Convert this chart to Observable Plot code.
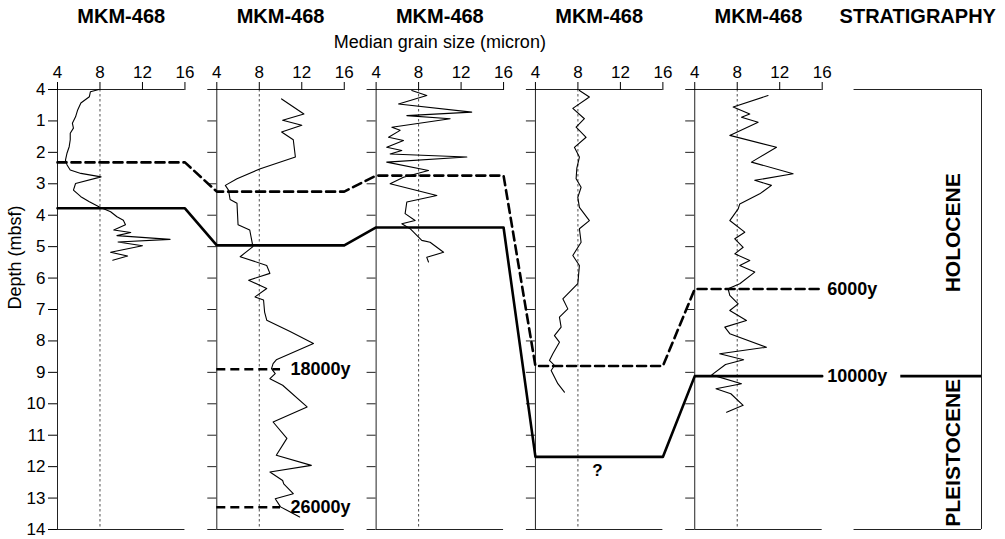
<!DOCTYPE html>
<html><head><meta charset="utf-8">
<script src="https://cdn.jsdelivr.net/npm/d3@7"></script>
<script src="https://cdn.jsdelivr.net/npm/@observablehq/plot@0.6"></script>
<style>body{margin:0;background:#fff} #chart svg{display:block}</style>
</head><body><div id="chart"></div>
<script>
// ---------- data ----------
const coreTitles = ["MKM-468", "MKM-468", "MKM-468", "MKM-468", "MKM-468"];
const stratTitle = "STRATIGRAPHY";
const xLabel = "Median grain size (micron)";
const yLabel = "Depth (mbsf)";
const sizeTicks = [4, 8, 12, 16];
const sizeTickLabels = ["4", "8", "12", "16"];
const depthTicks = [0, 1, 2, 3, 4, 5, 6, 7, 8, 9, 10, 11, 12, 13, 14];
const depthTickLabels = ["4", "1", "2", "3", "4", "5", "6", "7", "8", "9", "10", "11", "12", "13", "14"];
const refSize = 8;

const core1Depth = [0, 0.07, 0.23, 0.43, 0.65, 0.87, 1.07, 1.23, 1.39, 1.6, 1.82, 2.02, 2.25, 2.4, 2.56, 2.67, 2.78, 2.99, 3.2, 3.41, 3.57, 3.73, 3.89, 4.05, 4.16, 4.3, 4.47, 4.55, 4.65, 4.77, 4.85, 4.97, 5.18, 5.3, 5.43];
const core1Size  = [7.9, 7.1, 7.0, 6.2, 5.9, 5.7, 5.4, 5.5, 5.2, 5.2, 5.1, 4.9, 4.75, 4.9, 5.2, 6.2, 8.1, 5.7, 5.5, 6.2, 7.0, 7.9, 9.0, 9.6, 10.2, 10.4, 9.3, 10.9, 9.6, 14.6, 9.7, 12.0, 9.0, 10.6, 9.2];

const core2Depth = [0.3, 0.78, 0.98, 1.14, 1.35, 1.6, 2.15, 2.52, 2.84, 3.05, 3.2, 3.5, 3.62, 4.3, 4.47, 5.0, 5.32, 5.6, 5.85, 6.07, 6.33, 6.6, 6.7, 7.08, 7.34, 7.7, 8.08, 8.6, 8.72, 8.88, 9.04, 9.2, 9.41, 10.1, 10.58, 11.1, 11.64, 11.96, 12.17, 12.44, 12.55, 12.86, 13.02, 13.28, 13.6];
const core2Size  = [10.1, 12.2, 10.2, 12.0, 10.1, 11.2, 11.4, 8.1, 5.9, 4.8, 5.1, 5.25, 5.9, 6.0, 7.1, 7.4, 6.2, 8.7, 9.0, 7.0, 8.7, 7.6, 8.4, 8.5, 8.7, 10.9, 13.1, 9.6, 9.3, 9.15, 9.5, 9.0, 10.2, 12.5, 9.3, 10.6, 9.6, 12.9, 9.0, 10.2, 10.3, 11.2, 9.5, 10.0, 11.8];

const core3Depth = [0.03, 0.19, 0.46, 0.72, 0.83, 0.93, 1.2, 1.3, 1.52, 1.62, 1.84, 1.94, 2.05, 2.15, 2.31, 2.58, 2.79, 3.0, 3.37, 3.58, 3.95, 4.17, 4.27, 4.43, 4.8, 4.86, 5.18, 5.34, 5.49];
const core3Size  = [7.36, 8.77, 6.11, 13.0, 6.89, 10.97, 5.48, 6.26, 5.17, 6.58, 5.0, 6.42, 5.32, 12.54, 5.0, 8.93, 6.58, 5.32, 9.72, 6.89, 6.73, 7.67, 6.42, 7.2, 8.3, 9.08, 10.35, 8.77, 8.93];

const core4Depth = [0.03, 0.24, 0.6, 0.93, 1.2, 1.52, 1.84, 2.15, 2.5, 2.84, 3.11, 3.43, 3.75, 4.17, 4.43, 4.86, 5.28, 5.6, 6.18, 6.66, 6.98, 7.24, 7.56, 7.83, 8.04, 8.41, 8.62, 8.78, 8.94, 9.36, 9.63];
const core4Size  = [8.14, 9.08, 7.52, 8.61, 7.83, 8.77, 7.67, 8.14, 7.9, 7.83, 8.3, 7.99, 8.14, 9.08, 8.14, 8.3, 7.52, 8.14, 7.99, 6.58, 7.05, 6.26, 6.42, 5.79, 6.26, 5.64, 5.32, 5.79, 5.48, 6.11, 6.73];

const core5Depth = [0.19, 0.56, 0.78, 0.88, 1.04, 1.46, 1.84, 2.31, 2.68, 2.89, 3.05, 3.32, 3.64, 3.8, 4.17, 4.54, 4.75, 5.02, 5.23, 5.44, 5.6, 5.81, 6.18, 6.34, 6.55, 6.82, 7.03, 7.35, 7.56, 7.77, 8.2, 8.41, 8.6, 8.75, 9.08, 9.36, 9.52, 9.68, 10.05, 10.27];
const core5Size  = [10.9, 7.62, 9.18, 8.4, 9.97, 7.3, 11.7, 9.34, 13.26, 9.65, 11.22, 10.12, 8.24, 8.09, 7.3, 8.71, 7.77, 8.56, 7.77, 9.18, 8.24, 9.65, 8.24, 7.14, 7.3, 8.09, 7.3, 8.87, 6.83, 7.3, 10.75, 6.35, 8.6, 6.9, 5.6, 8.4, 6.0, 7.4, 8.56, 7.0];

const dashedHorizonDepth = [2.32, 3.25, 2.74, 8.8, 6.35];   // correlated to 6000y
const solidHorizonDepth  = [3.78, 4.96, 4.39, 11.69, 9.12]; // correlated to 10000y
const horizonLabels = ["6000y", "10000y"];
const ageMarkerDepth = [8.9, 13.29];
const ageMarkerLabels = ["18000y", "26000y"];
const stratNames = ["HOLOCENE", "PLEISTOCENE"];
const stratTop = [0, 9.12];
const stratBottom = [9.12, 14];
const unknownLabel = "?";

// ---------- layout ----------
const STEP = 15, VMIN = 4, VMAX = 16;
const gx = (p, v) => v + STEP * p;
const panels = [0, 1, 2, 3, 4];
const STRAT = 5;
const tickLen = 0.85;
const markerEnd = 10;          // local size where the short age-marker lines end
const stratLineFrom = 8.4;     // local (strat column) start of boundary line after the label
const stratLabelAt = 13.3;     // local position of the vertical unit names
const unknownAt = 9.85;
const FONT = "'Liberation Sans', Arial, Helvetica, sans-serif";

const cores = [[core1Depth, core1Size], [core2Depth, core2Size], [core3Depth, core3Size], [core4Depth, core4Size], [core5Depth, core5Size]];
const curveData = cores.flatMap(([ds, vs], p) => ds.map((d, i) => ({p, depth: d, size: vs[i]})));
const boxPanels = [...panels, STRAT];
const edgeRows = boxPanels.flatMap(p => [0, 14].map(y => ({p, y})));
const leftTicks = panels.slice(1).flatMap(p => depthTicks.map(y => ({p, y})));
const horizonPts = depths => depths.flatMap((d, p) => [{x: gx(p, VMIN), y: d}, {x: gx(p, VMAX), y: d}]);
const topTickVals = panels.flatMap(p => sizeTicks.map(v => gx(p, v)));
const topTickLabel = new Map(panels.flatMap(p => sizeTicks.map((v, i) => [gx(p, v), sizeTickLabels[i]])));
const depthLabel = new Map(depthTicks.map((d, i) => [d, depthTickLabels[i]]));
const ageMarkers = ageMarkerDepth.map((d, i) => ({d, label: ageMarkerLabels[i]}));
const strat = stratNames.map((n, i) => ({n, mid: (stratTop[i] + stratBottom[i]) / 2}));
const titles = [...coreTitles.map((t, p) => ({t, x: gx(p, 10)})), {t: stratTitle, x: gx(STRAT, 10)}];

const plot = Plot.plot({
  width: 1005, height: 539,
  marginLeft: 57, marginRight: 24, marginTop: 89, marginBottom: 10,
  x: {domain: [VMIN, gx(STRAT, VMAX)], axis: null},
  y: {domain: [0, 14], reverse: true, axis: null},
  style: {fontFamily: FONT, fontSize: "17px", color: "#000", background: "#fff", overflow: "visible"},
  marks: [
    // reference lines at 8 micron
    Plot.ruleX(panels, {x: p => gx(p, refSize), y1: 0, y2: 14, stroke: "#222", strokeWidth: 0.8, strokeDasharray: "2.5,2.5"}),
    // frame lines
    Plot.ruleX(panels, {x: p => gx(p, VMIN), y1: 0, y2: 14, stroke: "#222", strokeWidth: 1}),
    Plot.ruleX([gx(STRAT, VMAX)], {x: d => d, y1: 0, y2: 14, stroke: "#222", strokeWidth: 1}),
    Plot.ruleY(edgeRows, {y: "y", x1: d => gx(d.p, VMIN), x2: d => gx(d.p, VMAX), stroke: "#222", strokeWidth: 1}),
    Plot.ruleY(leftTicks, {y: "y", x1: d => gx(d.p, VMIN) - tickLen, x2: d => gx(d.p, VMIN), stroke: "#222", strokeWidth: 1}),
    // axes
    Plot.axisX({anchor: "top", ticks: topTickVals, tickFormat: v => topTickLabel.get(v), tickSize: 8, tickPadding: 4, fontSize: 17, label: null}),
    Plot.axisY({anchor: "left", ticks: depthTicks, tickFormat: d => depthLabel.get(d), tickSize: 9, tickPadding: 3, fontSize: 17, label: null}),
    // grain size curves
    Plot.line(curveData, {x: d => gx(d.p, d.size), y: "depth", z: "p", stroke: "#000", strokeWidth: 1.1}),
    // correlation horizons
    Plot.line(horizonPts(dashedHorizonDepth), {x: "x", y: "y", stroke: "#000", strokeWidth: 2.6, strokeDasharray: "9,5"}),
    Plot.line(horizonPts(solidHorizonDepth), {x: "x", y: "y", stroke: "#000", strokeWidth: 2.6}),
    Plot.ruleY([solidHorizonDepth[4]], {y: d => d, x1: gx(STRAT, stratLineFrom), x2: gx(STRAT, VMAX), stroke: "#000", strokeWidth: 2.6}),
    Plot.text([dashedHorizonDepth[4], solidHorizonDepth[4]], {x: gx(4, VMAX), y: d => d, text: (d, i) => horizonLabels[i], textAnchor: "start", dx: 5, fontWeight: "bold", fontSize: 18, lineAnchor: "middle"}),
    // age markers in core 2
    Plot.ruleY(ageMarkers, {y: "d", x1: gx(1, VMIN), x2: gx(1, markerEnd), stroke: "#000", strokeWidth: 2.6, strokeDasharray: "9,5"}),
    Plot.text(ageMarkers, {x: gx(1, markerEnd), y: "d", text: "label", textAnchor: "start", dx: 10, fontWeight: "bold", fontSize: 18, lineAnchor: "middle"}),
    Plot.text([solidHorizonDepth[3]], {x: gx(3, unknownAt), y: d => d, text: () => unknownLabel, dy: 14, fontWeight: "bold", fontSize: 17, lineAnchor: "middle"}),
    // stratigraphy units
    Plot.text(strat, {x: gx(STRAT, stratLabelAt), y: "mid", text: "n", rotate: -90, fontWeight: "bold", fontSize: 21, lineAnchor: "middle"}),
    // titles & labels
    Plot.text(titles, {x: "x", text: "t", frameAnchor: "top", dy: -67, lineAnchor: "bottom", fontWeight: "bold", fontSize: 20}),
    Plot.text([xLabel], {x: gx(2, 10), text: d => d, frameAnchor: "top", dy: -42, lineAnchor: "bottom", fontSize: 18}),
    Plot.text([yLabel], {frameAnchor: "left", text: d => d, rotate: -90, dx: -42, fontSize: 18, lineAnchor: "middle"})
  ]
});
document.getElementById("chart").append(plot);
</script>
</body></html>
